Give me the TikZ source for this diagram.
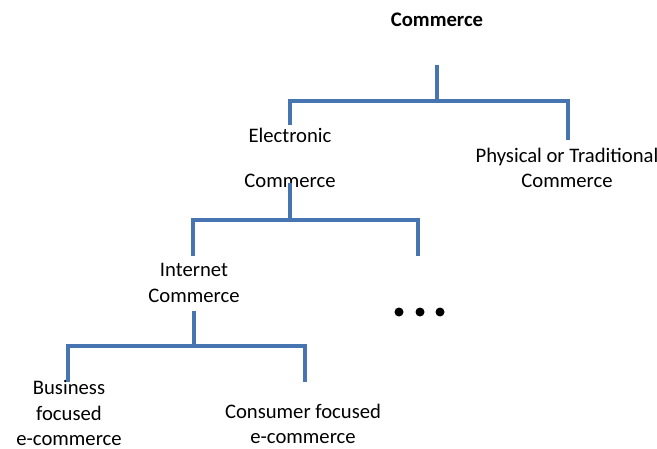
\documentclass[tikz,border=0pt]{standalone}
\usepackage{fontspec}
\setmainfont{Carlito}
\usepackage{tikz}
\usetikzlibrary{positioning}

\definecolor{branchblue}{RGB}{70,117,178}

\begin{document}
\begin{tikzpicture}[
    x=0.75pt, y=-0.75pt,
    lbl/.style={align=center, inner sep=0pt, font=\fontsize{15.5}{19}\selectfont},
    branch/.style={draw=branchblue, line width=2.6pt},
]
  \useasboundingbox (0,0) rectangle (657,449);

  % labels
  \node[lbl, font=\fontsize{15.5}{19}\selectfont\bfseries] (root) at (437,20) {Commerce};
  \node[lbl] (ecom) at (290,158) {Electronic\\[15pt]Commerce};
  \node[lbl] (trad) at (567,168) {Physical or Traditional\\Commerce};
  \node[lbl] (inet) at (194,283) {Internet\\Commerce};
  \node[lbl] (busi) at (69,413) {Business\\focused\\e-commerce};
  \node[lbl] (cons) at (303,424) {Consumer focused\\e-commerce};

  % junctions
  \coordinate (root-s) at (437,65);
  \coordinate (j1) at (437,101);
  \coordinate (j1-l) at (290,101);
  \coordinate (j1-r) at (568,101);
  \coordinate (ecom-n) at (290,125);
  \coordinate (trad-n) at (568,140);

  \coordinate (ecom-s) at (290,183);
  \coordinate (j2-l) at (193,220);
  \coordinate (j2-m) at (290,220);
  \coordinate (j2-r) at (418,220);
  \coordinate (inet-n) at (193,256);
  \coordinate (more-n) at (418,256);

  \coordinate (inet-s) at (194,311);
  \coordinate (j3-l) at (68,346);
  \coordinate (j3-m) at (194,346);
  \coordinate (j3-r) at (305,346);
  \coordinate (busi-n) at (68,382);
  \coordinate (cons-n) at (305,382);

  % tree
  \draw[branch] (root-s) -- (j1);
  \draw[branch] (ecom-n) -- (j1-l) -- (j1-r) -- (trad-n);
  \draw[branch] (ecom-s) -- (j2-m);
  \draw[branch] (inet-n) -- (j2-l) -- (j2-r) -- (more-n);
  \draw[branch] (inet-s) -- (j3-m);
  \draw[branch] (busi-n) -- (j3-l) -- (j3-r) -- (cons-n);

  % more branches
  \foreach \x in {399,420,440}
    \fill[black] (\x,312) circle (4.5);
\end{tikzpicture}
\end{document}
